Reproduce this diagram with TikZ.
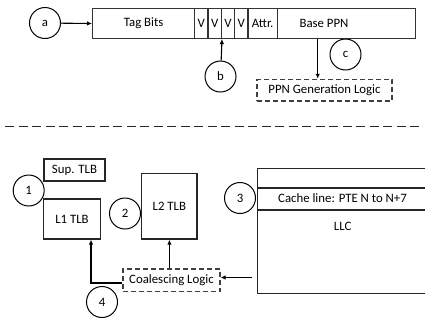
\documentclass[tikz,border=0pt]{standalone}
\usepackage{fontspec}
\setmainfont{Carlito}
\usetikzlibrary{arrows.meta,calc}
\tikzset{
  field/.style={draw=black!80,line width=1.3pt,minimum height=29.7pt,inner sep=0pt,anchor=north west}, % bar cell
  bubble/.style={circle,draw=black,line width=1pt,minimum size=31pt,inner sep=0pt},  % numbered circle
  block/.style={draw=black!85,line width=1.2pt,inner sep=0pt},
  logic/.style={draw=black!75,line width=1.2pt,dash pattern=on 5pt off 3pt,inner sep=0pt},
  arr/.style={-{Latex[length=5pt,width=4.5pt]},black,line width=1.1pt},
  sep/.style={black!85,line width=1.5pt,dash pattern=on 9pt off 4.5pt},
}

\begin{document}
\begin{tikzpicture}[x=1pt,y=-1pt,font=\fontsize{12.8}{15}\selectfont]
  \useasboundingbox (0,0) rectangle (425,322);
  % entry format
  \node[field,minimum width=102pt] (tagbits) at (92,8) {Tag Bits};
  \node[field,minimum width=13.3pt] (v1) at (194,8) {V};
  \node[field,minimum width=13.4pt] (v2) at (207.3,8) {V};
  \node[field,minimum width=13.3pt] (v3) at (220.7,8) {V};
  \node[field,minimum width=13.3pt] (v4) at (234,8) {V};
  \node[field,minimum width=29.4pt] (attr) at (247.3,8) {Attr.};
  \node[field,minimum width=138.3pt] (base) at (276.7,8) {};
  \node at (324,23) {Base PPN};
  \node[bubble] (a) at (45,23) {a};
  \node[bubble] (b) at (220.5,76.5) {b};
  \node[bubble] (c) at (345.5,54.5) {c};
  \node[logic,minimum width=135pt,minimum height=21.7pt] (ppn) at (324.5,90.2) {PPN Generation Logic};
  \draw[arr] (a) -- (tagbits.west);
  \draw[arr] (b) -- (v2.south east);
  \draw[arr] ([xshift=-6.8pt]ppn.north |- base.south) -- ([xshift=-6.8pt]ppn.north);
  \draw[sep] (5,126.7) -- (422,126.7);
  % hierarchy
  \node[block,minimum width=61pt,minimum height=22pt] (sup) at (74.5,170) {Sup. TLB};
  \node[block,minimum width=56.6pt,minimum height=40pt] (l1) at (72,219) {L1 TLB};
  \node[block,minimum width=55.3pt,minimum height=65.7pt] (l2) at (169.4,206.2) {L2 TLB};
  \node[block,minimum width=180pt,minimum height=125pt,anchor=north west] (llc) at (256.7,167.7) {};
  \node[block,minimum width=180pt,minimum height=22pt,anchor=north west] (cline) at (256.7,187.3) {};
  \node at (342.5,198) {Cache line: PTE N to N+7};
  \node at (342.7,226) {LLC};
  \node[logic,minimum width=97pt,minimum height=22.7pt] (coal) at (171.5,280.4) {Coalescing Logic};
  \node[bubble] (n1) at (28.7,190.5) {1};
  \node[bubble] (n2) at (125,213.5) {2};
  \node[bubble] (n3) at (240,198) {3};
  \node[bubble] (n4) at (102,302) {4};
  \coordinate (llcout) at (252,277.5);
  \draw[arr] (llcout) -- (llcout -| coal.east);
  \draw[arr] (coal.north -| l2.south) -- (l2.south);
  \draw[arr,line width=2pt] ([yshift=-3pt]coal.west) -| ([xshift=19pt]l1.south);
\end{tikzpicture}
\end{document}
